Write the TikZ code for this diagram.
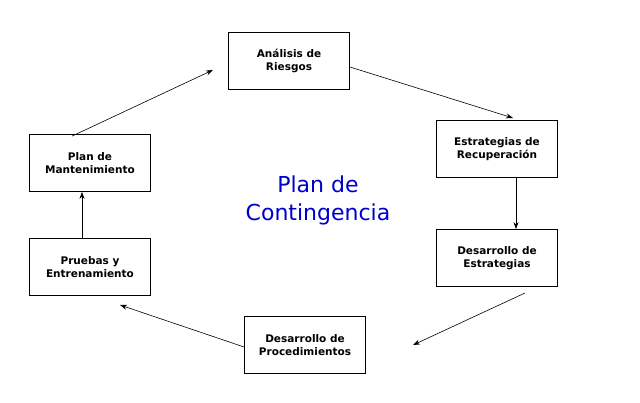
\documentclass[tikz,border=0pt]{standalone}
\usepackage{fontspec}
\setmainfont{DejaVu Sans}
\usetikzlibrary{arrows.meta}
\begin{document}
\begin{tikzpicture}[x=1pt,y=-1pt,
  box/.style={draw=black,line width=0.8pt,minimum width=121pt,minimum height=57pt,align=center,font=\bfseries\fontsize{10.5}{13}\selectfont,inner sep=2pt},
  arr/.style={-{Stealth[length=7pt,width=5pt]},line width=0.6pt}]
\useasboundingbox[fill=white] (0,0) rectangle (640,403);
\node[box] (a) at (289,61) {Análisis de\\Riesgos};
\node[box] (b) at (497,149) {Estrategias de\\Recuperación};
\node[box] (c) at (497,258) {Desarrollo de\\Estrategias};
\node[box] (d) at (305,345) {Desarrollo de\\Procedimientos};
\node[box] (e) at (90,267) {Pruebas y\\Entrenamiento};
\node[box] (f) at (90,163) {Plan de\\Mantenimiento};
\node[text=blue!80!black,align=center,font=\fontsize{22}{28}\selectfont] (t) at (318,200) {Plan de\\Contingencia};
\coordinate (a1) at (513,118);
\coordinate (c0) at (525,293);
\coordinate (c1) at (413,345);
\coordinate (e1) at (120,305);
\coordinate (a0) at (213,70);
\draw[arr] ([yshift=-6pt]a.east) -- (a1);
\draw[arr] ([xshift=19pt]b.south) -- ([xshift=19pt]c.north);
\draw[arr] (c0) -- (c1);
\draw[arr] ([yshift=-2pt]d.west) -- (e1);
\draw[arr] ([xshift=-8pt]e.north) -- ([xshift=-8pt]f.south);
\draw[arr] ([xshift=-18pt,yshift=-2pt]f.north) -- (a0);
\end{tikzpicture}
\end{document}
